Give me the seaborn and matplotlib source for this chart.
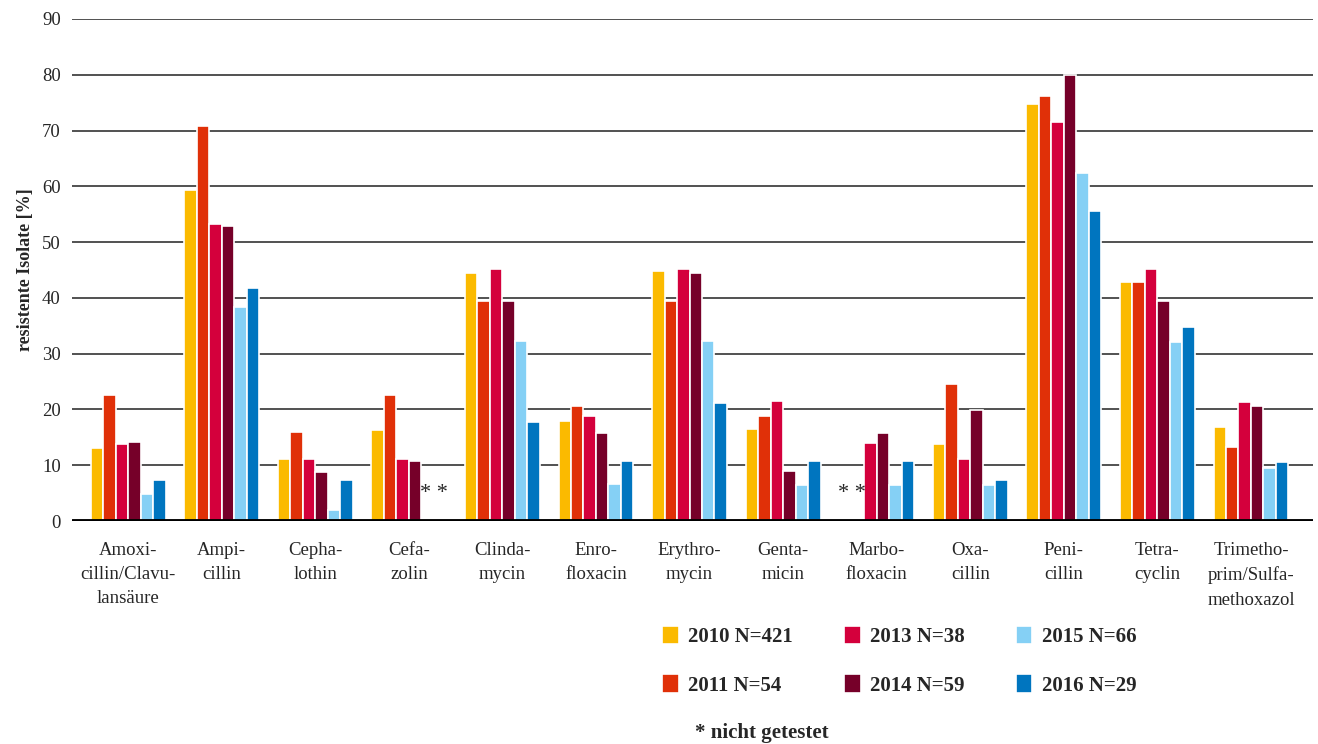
import numpy as np
import pandas as pd
import matplotlib
matplotlib.use("Agg")
import matplotlib.pyplot as plt
import seaborn as sns

# Daten, NaN = nicht getestet
antibiotika = ["Amoxi-\ncillin/Clavu-\nlansäure", "Ampi-\ncillin", "Cepha-\nlothin",
               "Cefa-\nzolin", "Clinda-\nmycin", "Enro-\nfloxacin", "Erythro-\nmycin",
               "Genta-\nmicin", "Marbo-\nfloxacin", "Oxa-\ncillin", "Peni-\ncillin",
               "Tetra-\ncyclin", "Trimetho-\nprim/Sulfa-\nmethoxazol"]
jahre = ["2010 N=421", "2011 N=54", "2013 N=38", "2014 N=59", "2015 N=66", "2016 N=29"]

werte_2010 = [13.1, 59.3, 11.1, 16.4, 44.4, 18.0, 44.8, 16.5, np.nan, 13.8, 74.7, 42.8, 16.8]
werte_2011 = [22.6, 70.8, 16.0, 22.6, 39.4, 20.7, 39.4, 18.8, np.nan, 24.5, 76.2, 42.8, 13.3]
werte_2013 = [13.8, 53.2, 11.1, 11.1, 45.2, 18.8, 45.2, 21.5, 13.9, 11.1, 71.6, 45.1, 21.4]
werte_2014 = [14.2, 52.9, 8.8, 10.7, 39.4, 15.7, 44.4, 8.9, 15.7, 19.9, 80.0, 39.4, 20.6]
werte_2015 = [4.9, 38.4, 1.9, np.nan, 32.3, 6.6, 32.3, 6.5, 6.5, 6.5, 62.4, 32.1, 9.5]
werte_2016 = [7.3, 41.8, 7.3, np.nan, 17.7, 10.7, 21.1, 10.7, 10.7, 7.3, 55.5, 34.8, 10.6]

farben = ["#FBBA00", "#E03008", "#D4003C", "#760029", "#85D0F5", "#0075BF"]

alle_werte = [werte_2010, werte_2011, werte_2013, werte_2014, werte_2015, werte_2016]
zeilen = []
for jahr, werte in zip(jahre, alle_werte):
    for ab, w in zip(antibiotika, werte):
        zeilen.append({"Antibiotikum": ab, "Jahr": jahr, "Wert": w})
df = pd.DataFrame(zeilen)

sns.set_style("white")
plt.rcParams["font.family"] = ["Liberation Serif", "DejaVu Serif"]

fig = plt.figure(figsize=(13.18, 7.44), dpi=100)
ax = fig.add_axes([0.0546, 0.2997, 0.9414, 0.6748])

sns.barplot(data=df, x="Antibiotikum", y="Wert", hue="Jahr", order=antibiotika,
            hue_order=jahre, palette=farben, width=0.8, edgecolor="white",
            linewidth=1.2, saturation=1, ax=ax, legend=True)

ax.set_ylim(0, 90)
ax.set_xlim(-0.6, 12.66)
ax.set_yticks(range(0, 91, 10))
ax.set_xticks(range(len(antibiotika)), antibiotika, linespacing=1.55)
ax.yaxis.grid(True, color="#222222", linewidth=1.1)
ax.set_axisbelow(True)
ax.axhline(0, color="black", linewidth=3.5, zorder=5)
for s in ax.spines.values():
    s.set_visible(False)
ax.tick_params(axis="y", length=0, pad=8, labelsize=13.5)
ax.tick_params(axis="x", length=0, pad=15, labelsize=13.5)
ax.set_xlabel("")
ax.set_ylabel("resistente Isolate [%]", fontsize=13, fontweight="bold", labelpad=6)

# nicht getestet
ax.text(3 + 2 * 0.8 / 6, 5, "* *", ha="center", va="center", fontsize=16)
ax.text(8 - 2 * 0.8 / 6, 5, "* *", ha="center", va="center", fontsize=16)

handles, labels = ax.get_legend_handles_labels()
ax.get_legend().remove()
fig.legend(handles, labels, ncol=3, loc="upper left", bbox_to_anchor=(0.496, 0.17),
           frameon=False, handlelength=0.8, handleheight=1.0, handletextpad=0.45,
           columnspacing=2.45, labelspacing=1.3, borderaxespad=0,
           prop={"weight": "bold", "size": 15})
fig.text(0.527, 0.008, "* nicht getestet", fontsize=15, fontweight="bold", ha="left")

plt.savefig("out.png", dpi=100)
plt.close()
